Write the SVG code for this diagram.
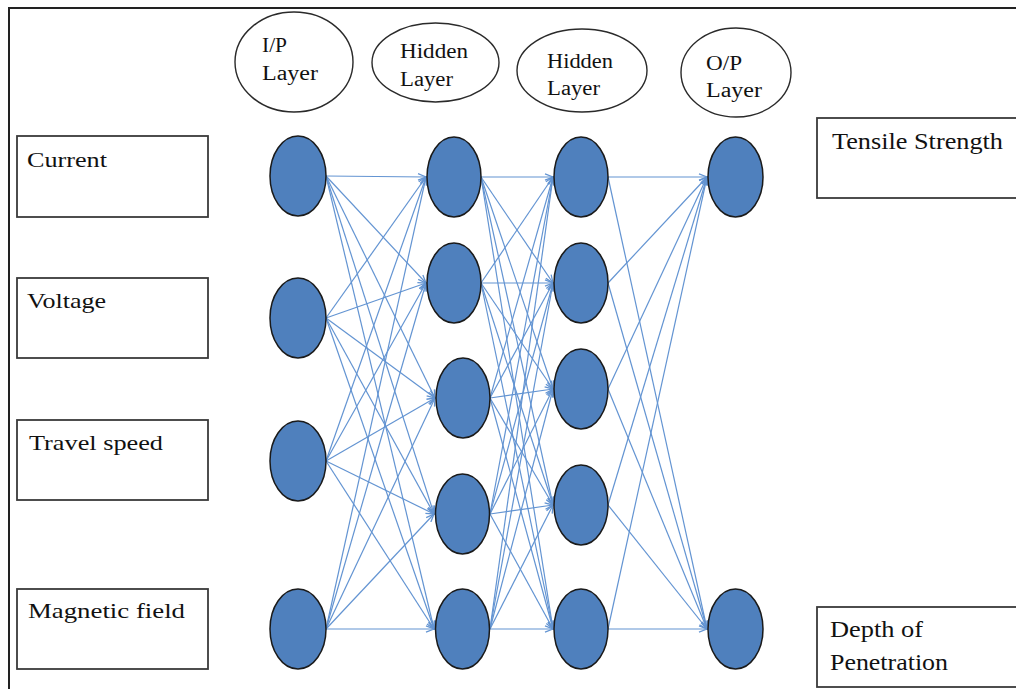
<svg xmlns="http://www.w3.org/2000/svg" width="1016" height="689" viewBox="0 0 1016 689">
<style>
.frame{fill:none;stroke:#222;stroke-width:2}
.box{fill:#fff;stroke:#3a3a3a;stroke-width:1.8}
.hdr{fill:#fff;stroke:#2a2a2a;stroke-width:1.4}
.node{fill:#4f80bd;stroke:#1a1a1a;stroke-width:1.5}
.t{font-family:"Liberation Serif","Times New Roman",serif;fill:#111}
.th{font-size:20px}
.tl{font-size:21px}
.tr{font-size:23px}
.c line{stroke:#6394d2;stroke-width:1.2;marker-end:url(#arr)}
</style>
<defs>
<marker id="arr" markerWidth="10" markerHeight="8" refX="9" refY="4" orient="auto" markerUnits="userSpaceOnUse">
<path d="M1,0.8 L9,4 L1,7.2" fill="none" stroke="#6394d2" stroke-width="1.3"/>
</marker>
</defs>
<rect width="1016" height="689" fill="#fff"/>
<rect class="frame" x="9" y="8" width="1100" height="800"/>

<g id="hdr-ip"><ellipse class="hdr" cx="294" cy="62" rx="59" ry="50"/>
<text class="t th" x="262" y="52" textLength="25" lengthAdjust="spacingAndGlyphs">I/P</text>
<text class="t th" x="262" y="80" textLength="56" lengthAdjust="spacingAndGlyphs">Layer</text></g>
<g id="hdr-h1"><ellipse class="hdr" cx="435.5" cy="62.5" rx="63.5" ry="39.5"/>
<text class="t th" x="400" y="58" textLength="68" lengthAdjust="spacingAndGlyphs">Hidden</text>
<text class="t th" x="400" y="86" textLength="53" lengthAdjust="spacingAndGlyphs">Layer</text></g>
<g id="hdr-h2"><ellipse class="hdr" cx="582" cy="70.5" rx="65" ry="41.5"/>
<text class="t th" x="547" y="68" textLength="66" lengthAdjust="spacingAndGlyphs">Hidden</text>
<text class="t th" x="547" y="95" textLength="53" lengthAdjust="spacingAndGlyphs">Layer</text></g>
<g id="hdr-op"><ellipse class="hdr" cx="736" cy="72.5" rx="55" ry="44.5"/>
<text class="t th" x="706" y="70" textLength="36" lengthAdjust="spacingAndGlyphs">O/P</text>
<text class="t th" x="706" y="97" textLength="56" lengthAdjust="spacingAndGlyphs">Layer</text></g>

<g id="lbl-current"><rect class="box" x="17" y="136" width="191" height="81"/>
<text class="t tl" x="27" y="167" textLength="80" lengthAdjust="spacingAndGlyphs">Current</text></g>
<g id="lbl-voltage"><rect class="box" x="17" y="278" width="191" height="80"/>
<text class="t tl" x="27" y="308" textLength="79" lengthAdjust="spacingAndGlyphs">Voltage</text></g>
<g id="lbl-travel"><rect class="box" x="17" y="420" width="191" height="80"/>
<text class="t tl" x="29" y="450" textLength="134" lengthAdjust="spacingAndGlyphs">Travel speed</text></g>
<g id="lbl-magnetic"><rect class="box" x="17" y="589" width="191" height="80"/>
<text class="t tl" x="28" y="618" textLength="157" lengthAdjust="spacingAndGlyphs">Magnetic field</text></g>
<g id="lbl-tensile"><rect class="box" x="817" y="118" width="220" height="80"/>
<text class="t tr" x="832" y="149" textLength="171" lengthAdjust="spacingAndGlyphs">Tensile Strength</text></g>
<g id="lbl-depth"><rect class="box" x="817" y="607" width="220" height="80"/>
<text class="t tr" x="830" y="637" textLength="93" lengthAdjust="spacingAndGlyphs">Depth of</text>
<text class="t tr" x="830" y="670" textLength="118" lengthAdjust="spacingAndGlyphs">Penetration</text></g>

<g id="connectors" class="c">
<line x1="326" y1="176" x2="426" y2="177"/><line x1="326" y1="176" x2="426" y2="283"/><line x1="326" y1="176" x2="435" y2="398"/><line x1="326" y1="176" x2="434" y2="514"/><line x1="326" y1="176" x2="434" y2="629"/>
<line x1="326" y1="318" x2="426" y2="177"/><line x1="326" y1="318" x2="426" y2="283"/><line x1="326" y1="318" x2="435" y2="398"/><line x1="326" y1="318" x2="434" y2="514"/><line x1="326" y1="318" x2="434" y2="629"/>
<line x1="326" y1="461" x2="426" y2="177"/><line x1="326" y1="461" x2="426" y2="283"/><line x1="326" y1="461" x2="435" y2="398"/><line x1="326" y1="461" x2="434" y2="514"/><line x1="326" y1="461" x2="434" y2="629"/>
<line x1="326" y1="629" x2="426" y2="177"/><line x1="326" y1="629" x2="426" y2="283"/><line x1="326" y1="629" x2="435" y2="398"/><line x1="326" y1="629" x2="434" y2="514"/><line x1="326" y1="629" x2="434" y2="629"/>
<line x1="481" y1="177" x2="553" y2="177"/><line x1="481" y1="177" x2="553" y2="283"/><line x1="481" y1="177" x2="553" y2="389"/><line x1="481" y1="177" x2="553" y2="505"/><line x1="481" y1="177" x2="553" y2="629"/>
<line x1="481" y1="283" x2="553" y2="177"/><line x1="481" y1="283" x2="553" y2="283"/><line x1="481" y1="283" x2="553" y2="389"/><line x1="481" y1="283" x2="553" y2="505"/><line x1="481" y1="283" x2="553" y2="629"/>
<line x1="490" y1="398" x2="553" y2="177"/><line x1="490" y1="398" x2="553" y2="283"/><line x1="490" y1="398" x2="553" y2="389"/><line x1="490" y1="398" x2="553" y2="505"/><line x1="490" y1="398" x2="553" y2="629"/>
<line x1="490" y1="514" x2="553" y2="177"/><line x1="490" y1="514" x2="553" y2="283"/><line x1="490" y1="514" x2="553" y2="389"/><line x1="490" y1="514" x2="553" y2="505"/><line x1="490" y1="514" x2="553" y2="629"/>
<line x1="490" y1="629" x2="553" y2="177"/><line x1="490" y1="629" x2="553" y2="283"/><line x1="490" y1="629" x2="553" y2="389"/><line x1="490" y1="629" x2="553" y2="505"/><line x1="490" y1="629" x2="553" y2="629"/>
<line x1="608" y1="177" x2="707" y2="177"/><line x1="608" y1="177" x2="707" y2="629"/>
<line x1="608" y1="283" x2="707" y2="177"/><line x1="608" y1="283" x2="707" y2="629"/>
<line x1="608" y1="389" x2="707" y2="177"/><line x1="608" y1="389" x2="707" y2="629"/>
<line x1="608" y1="505" x2="707" y2="177"/><line x1="608" y1="505" x2="707" y2="629"/>
<line x1="608" y1="629" x2="707" y2="177"/><line x1="608" y1="629" x2="707" y2="629"/>
</g>

<g id="in1"><ellipse class="node" cx="298" cy="176" rx="28" ry="40"/></g>
<g id="in2"><ellipse class="node" cx="298" cy="318" rx="28" ry="40"/></g>
<g id="in3"><ellipse class="node" cx="298" cy="461" rx="28" ry="40"/></g>
<g id="in4"><ellipse class="node" cx="298" cy="629" rx="28" ry="40"/></g>
<g id="h1n1"><ellipse class="node" cx="454" cy="177" rx="27" ry="40"/></g>
<g id="h1n2"><ellipse class="node" cx="454" cy="283" rx="27" ry="40"/></g>
<g id="h1n3"><ellipse class="node" cx="463" cy="398" rx="27" ry="40"/></g>
<g id="h1n4"><ellipse class="node" cx="462.5" cy="514" rx="27" ry="40"/></g>
<g id="h1n5"><ellipse class="node" cx="462.5" cy="629" rx="27" ry="40"/></g>
<g id="h2n1"><ellipse class="node" cx="581" cy="177" rx="27" ry="40"/></g>
<g id="h2n2"><ellipse class="node" cx="581" cy="283" rx="27" ry="40"/></g>
<g id="h2n3"><ellipse class="node" cx="581" cy="389" rx="27" ry="40"/></g>
<g id="h2n4"><ellipse class="node" cx="581" cy="505" rx="27" ry="40"/></g>
<g id="h2n5"><ellipse class="node" cx="581" cy="629" rx="27" ry="40"/></g>
<g id="out1"><ellipse class="node" cx="735.5" cy="177" rx="27.5" ry="40"/></g>
<g id="out2"><ellipse class="node" cx="735.5" cy="629" rx="27.5" ry="40"/></g>
</svg>
